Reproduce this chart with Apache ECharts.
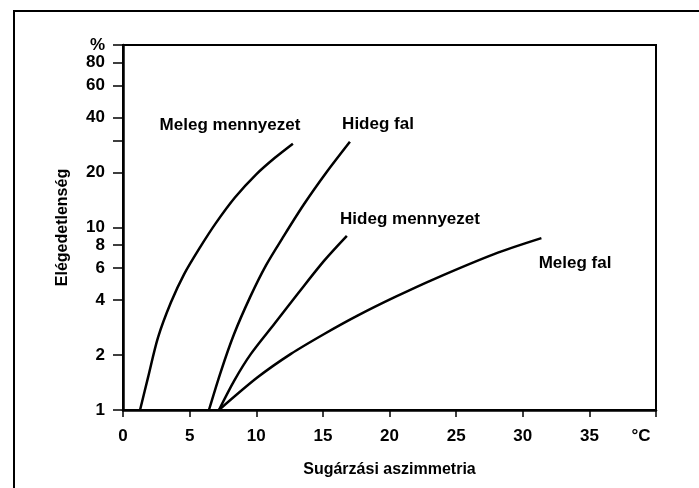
<!DOCTYPE html>
<html>
<head>
<meta charset="utf-8">
<script src="https://cdn.jsdelivr.net/npm/echarts@6/dist/echarts.min.js"></script>
<style>
  html, body { margin: 0; padding: 0; background: #fff; }
  #main { width: 699px; height: 488px; }
</style>
</head>
<body>
<div id="main"></div>
<script>
// Sugárzási aszimmetria (°C) -> Elégedetlenség (%)
var melegMennyezet = [[1.28, 1], [1.88, 1.51], [2.63, 2.5], [3.6, 3.89], [4.58, 5.54], [5.78, 7.78], [6.98, 10.6], [8.4, 14.6], [9.98, 19.5], [11.4, 24.1], [12.75, 28.8]];
var hidegFal = [[6.45, 1], [7.35, 1.63], [8.33, 2.6], [9.53, 4.14], [10.73, 6.2], [12.0, 8.82], [13.58, 13.4], [15.3, 20.2], [17.03, 29.5]];
var hidegMennyezet = [[7.2, 1], [8.35, 1.45], [9.6, 2.03], [11.35, 2.96], [13.1, 4.32], [15.1, 6.58], [16.8, 9.0]];
var melegFal = [[7.2, 1], [10.1, 1.51], [12.6, 2.03], [15.1, 2.61], [17.6, 3.29], [20.35, 4.14], [23.35, 5.22], [27.85, 7.15], [31.4, 8.74]];

var yTicks = [1, 2, 4, 6, 8, 10, 20, 30, 40, 60, 80, 100];
var yLabels = [1, 2, 4, 6, 8, 10, 20, 40, 60, 80, 100];

var chart = echarts.init(document.getElementById('main'));

function line(name, data) {
  return {
    name: name,
    type: 'line',
    data: data,
    smooth: 0.3,
    symbol: 'none',
    lineStyle: { color: '#000', width: 2.5 }
  };
}

var labelFont = 'bold 17px "Liberation Sans", Arial, sans-serif';

var option = {
  animation: false,
  backgroundColor: '#fff',
  grid: {
    left: 123, right: 43, top: 45, bottom: 78,
    show: true, borderColor: '#000', borderWidth: 2
  },
  xAxis: {
    type: 'value',
    min: 0, max: 40, interval: 5,
    name: 'Sugárzási aszimmetria',
    nameLocation: 'middle',
    nameGap: 52,
    nameTextStyle: { color: '#000', fontSize: 16, fontWeight: 'bold', fontFamily: 'Liberation Sans' },
    axisLine: { lineStyle: { color: '#000', width: 2.5 } },
    axisTick: { length: 7, lineStyle: { color: '#000', width: 1.5 } },
    splitLine: { show: false },
    axisLabel: {
      color: '#000', fontSize: 17, fontWeight: 'bold', fontFamily: 'Liberation Sans',
      margin: 18,
      formatter: function (v) { return v === 40 ? '{c|°C}' : v; },
      rich: { c: { fontSize: 17, fontWeight: 'bold', fontFamily: 'Liberation Sans', color: '#000', padding: [0, 30, 8, 0] } }
    }
  },
  yAxis: {
    type: 'log',
    logBase: 10,
    min: 1, max: 100,
    name: 'Elégedetlenség',
    nameLocation: 'middle',
    nameGap: 52,
    nameTextStyle: { color: '#000', fontSize: 16, fontWeight: 'bold', fontFamily: 'Liberation Sans' },
    axisLine: { show: true, lineStyle: { color: '#000', width: 2.5 } },
    axisTick: { show: true, length: 10, customValues: yTicks, lineStyle: { color: '#000', width: 1.5 } },
    minorTick: { show: false },
    splitLine: { show: false },
    axisLabel: {
      color: '#000', fontSize: 17, fontWeight: 'bold', fontFamily: 'Liberation Sans',
      margin: 18,
      customValues: yLabels,
      formatter: function (v) { return v === 100 ? '%' : v; }
    }
  },
  series: [
    line('Meleg mennyezet', melegMennyezet),
    line('Hideg fal', hidegFal),
    line('Hideg mennyezet', hidegMennyezet),
    line('Meleg fal', melegFal)
  ],
  graphic: [
    { type: 'rect', shape: { x: 14, y: 11, width: 720, height: 500 }, style: { fill: null, stroke: '#000', lineWidth: 2 }, silent: true },
    { type: 'text', x: 230, y: 125, style: { text: 'Meleg mennyezet', font: labelFont, fill: '#000', align: 'center', verticalAlign: 'middle' } },
    { type: 'text', x: 378, y: 124, style: { text: 'Hideg fal', font: labelFont, fill: '#000', align: 'center', verticalAlign: 'middle' } },
    { type: 'text', x: 410, y: 219, style: { text: 'Hideg mennyezet', font: labelFont, fill: '#000', align: 'center', verticalAlign: 'middle' } },
    { type: 'text', x: 575, y: 263, style: { text: 'Meleg fal', font: labelFont, fill: '#000', align: 'center', verticalAlign: 'middle' } }
  ]
};

chart.setOption(option);
</script>
</body>
</html>
